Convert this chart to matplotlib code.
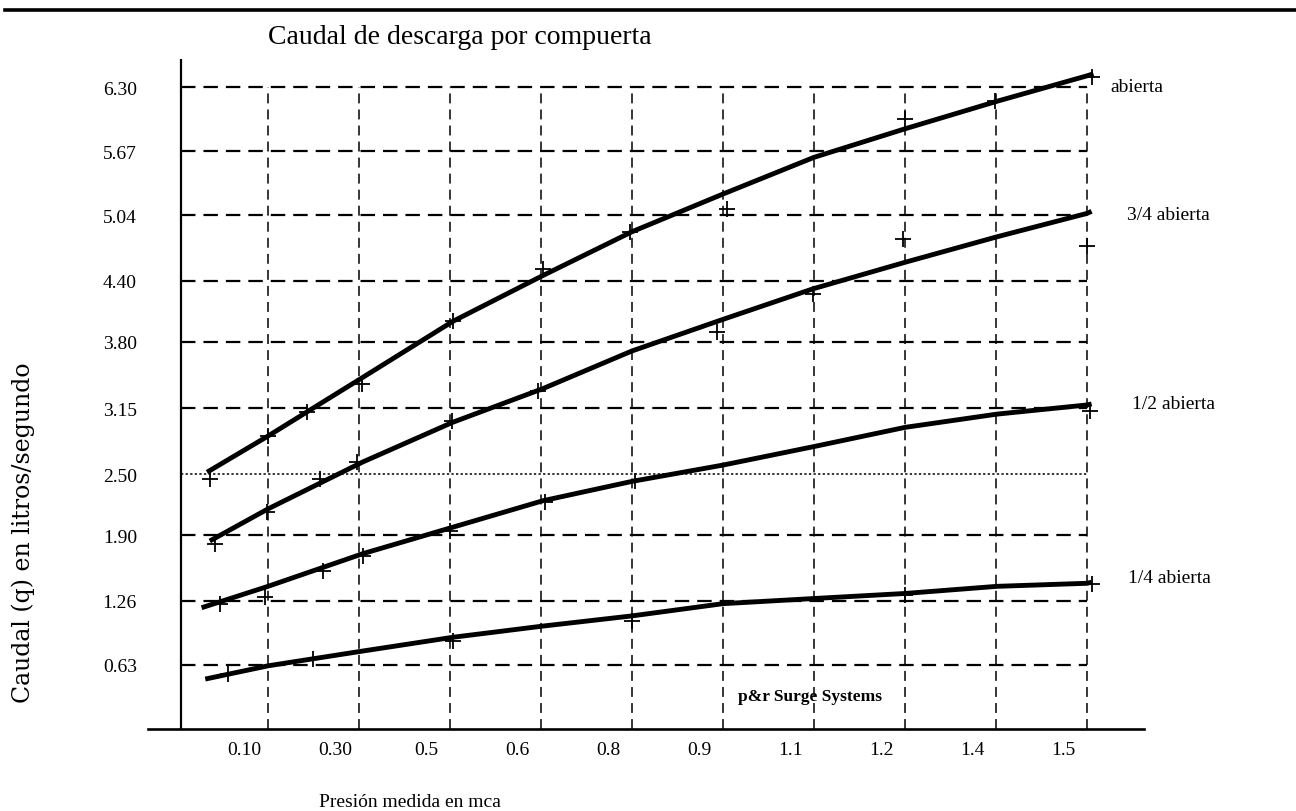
import numpy as np
import matplotlib.pyplot as plt
from matplotlib.lines import Line2D

plt.rcParams['font.family'] = ['Liberation Serif', 'DejaVu Serif']

# ejes: categorias de presion (una por linea de grilla) y niveles de caudal
xtick_labels = ['0.10', '0.30', '0.5', '0.6', '0.8', '0.9', '1.1', '1.2', '1.4', '1.5']
ytick_vals = [0.63, 1.26, 1.90, 2.50, 3.15, 3.80, 4.40, 5.04, 5.67, 6.30]
ytick_labels = ['0.63', '1.26', '1.90', '2.50', '3.15', '3.80', '4.40', '5.04', '5.67', '6.30']

# curvas ajustadas (posicion sobre la grilla, caudal l/s)
x_abierta = [0.33, 1.0, 2.04, 3.03, 4.02, 5.0, 6.0, 7.0, 8.0, 9.01, 10.0, 10.07]
q_abierta = [2.52, 2.875, 3.45, 4.00, 4.45, 4.88, 5.25, 5.61, 5.89, 6.16, 6.41, 6.43]
x_34 = [0.36, 1.0, 2.04, 3.03, 4.02, 5.0, 6.0, 6.99, 8.0, 9.01, 10.0, 10.05]
q_34 = [1.845, 2.16, 2.62, 3.01, 3.34, 3.71, 4.02, 4.32, 4.58, 4.83, 5.06, 5.08]
x_12 = [0.27, 1.0, 2.04, 3.03, 4.02, 5.0, 6.0, 6.99, 8.0, 9.01, 10.0, 10.05]
q_12 = [1.19, 1.40, 1.72, 1.98, 2.24, 2.43, 2.59, 2.77, 2.96, 3.09, 3.18, 3.19]
x_14 = [0.31, 1.0, 2.04, 3.03, 4.02, 5.0, 6.0, 6.99, 8.0, 9.01, 10.0, 10.05]
q_14 = [0.49, 0.62, 0.765, 0.90, 1.01, 1.11, 1.23, 1.28, 1.33, 1.40, 1.43, 1.44]

# puntos medidos (+)
mx_abierta = [0.36, 1.0, 1.43, 2.03, 3.03, 4.02, 4.98, 6.04, 8.0, 8.99, 10.05]
my_abierta = [2.45, 2.875, 3.11, 3.39, 4.00, 4.51, 4.88, 5.10, 5.99, 6.16, 6.40]
mx_34 = [0.42, 0.99, 1.57, 1.98, 3.02, 3.97, 5.93, 6.99, 7.98, 10.0]
my_34 = [1.82, 2.13, 2.45, 2.62, 3.02, 3.32, 3.90, 4.27, 4.81, 4.74]
mx_12 = [0.47, 0.97, 1.60, 2.04, 3.0, 4.04, 5.03, 10.03]
my_12 = [1.23, 1.30, 1.55, 1.70, 1.94, 2.23, 2.43, 3.12]
mx_14 = [0.56, 1.49, 3.03, 5.0, 8.0, 10.05]
my_14 = [0.54, 0.69, 0.86, 1.06, 1.315, 1.42]

series = [
    ('abierta', x_abierta, q_abierta, mx_abierta, my_abierta, (17, -13)),
    ('3/4 abierta', x_34, q_34, mx_34, my_34, (35, -3)),
    ('1/2 abierta', x_12, q_12, mx_12, my_12, (40, 0)),
    ('1/4 abierta', x_14, q_14, mx_14, my_14, (36, 5)),
]

W, H = 1296, 812
fig = plt.figure(figsize=(W / 100, H / 100), dpi=100)
ax = fig.add_axes([148 / W, 82 / H, (1144 - 148) / W, 670 / H])

ax.set_xlim(-0.319, 10.626)
ax.set_ylim(0, 6.575)
y_axis_x = 0.044

for s in ['top', 'right', 'left']:
    ax.spines[s].set_visible(False)
ax.spines['bottom'].set_linewidth(1.9)
ax.axvline(y_axis_x, color='k', lw=1.6)

# grilla
grid = np.arange(1, len(xtick_labels) + 1)
for v in ytick_vals:
    if v == 2.50:
        ax.hlines(v, y_axis_x, grid[-1], colors='k', lw=1.1, linestyles=(0, (1.5, 1.5)))
    else:
        ax.hlines(v, y_axis_x, grid[-1], colors='k', lw=1.6, linestyles=(0, (6.5, 3.6)))
ax.vlines(grid, 0, ytick_vals[-1], colors='k', lw=1.1, linestyles=(0, (6.5, 4.0)))

for name, x, q, mx, my, off in series:
    ax.plot(x, q, color='k', lw=3.5, solid_capstyle='butt')
    ax.plot(mx, my, 'k+', ms=11, mew=1.3, ls='none')
    ax.annotate(name, xy=(x[-1], q[-1]), xytext=off, textcoords='offset pixels',
                ha='left', va='center', fontsize=14)

ax.set_yticks(ytick_vals, ytick_labels)
ax.set_xticks(grid - 0.26, xtick_labels)
ax.tick_params(axis='both', length=0, labelsize=14)
ax.tick_params(axis='y', pad=8)
ax.tick_params(axis='x', pad=9)

ax.text(6.96, 0.32, 'p&r Surge Systems', ha='center', va='center',
        fontsize=12.5, fontweight='bold')

fig.text(268 / W, 1 - 38 / H, 'Caudal de descarga por compuerta', ha='left', va='center', fontsize=20)
fig.text(410 / W, 1 - 803 / H, 'Presión medida en mca', ha='center', va='center', fontsize=14)
fig.text(23 / W, 1 - 533 / H, 'Caudal (q) en litros/segundo', rotation=90, ha='center', va='center',
         fontsize=17, family=['DejaVu Serif'])
fig.add_artist(Line2D([5 / W, 1.0], [1 - 11 / H, 1 - 11 / H], color='k', lw=2.6))

fig.savefig('out.png', dpi=100)
